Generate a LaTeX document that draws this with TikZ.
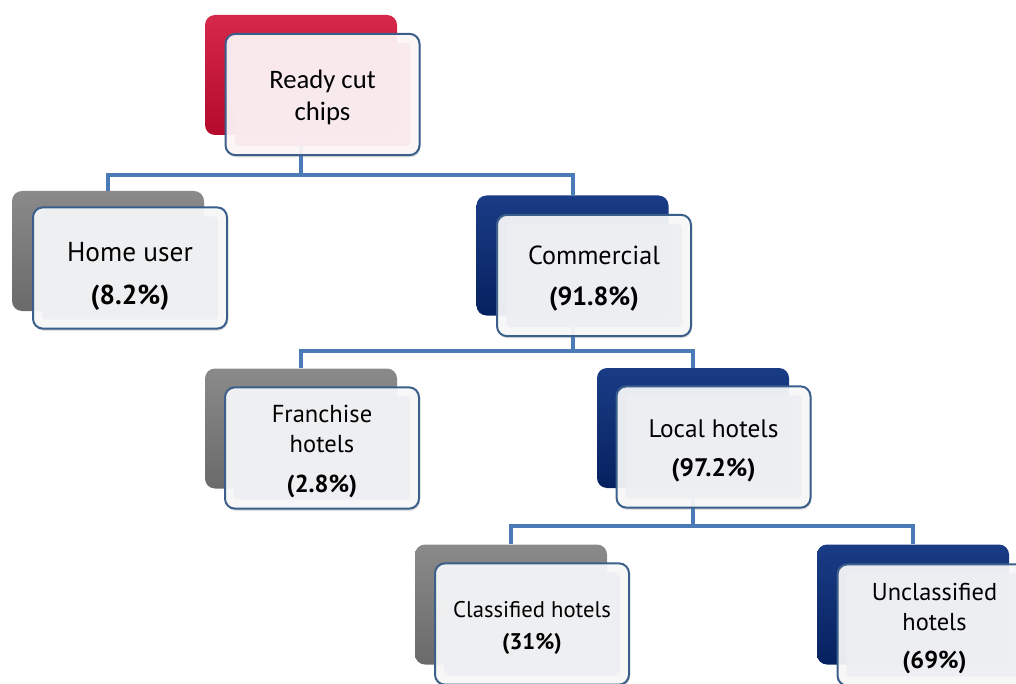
\documentclass[tikz,border=0pt]{standalone}
\usepackage{fontspec}
\setmainfont{Carlito}
\newfontfamily\gill{PT Sans}
\usetikzlibrary{shadows}
\definecolor{connc}{HTML}{4A7BB7}
\definecolor{frontline}{HTML}{3A5F8A}
\definecolor{frontouter}{HTML}{F9FAFB}
\definecolor{frontinner}{HTML}{EEEFF2}
\definecolor{pinkouter}{HTML}{FFF8F9}
\definecolor{pinkinner}{HTML}{F9EAEE}
\definecolor{redtop}{HTML}{D6284A}
\definecolor{redbot}{HTML}{B40A2C}
\definecolor{graytop}{HTML}{8A8A8A}
\definecolor{graybot}{HTML}{6A6A6A}
\definecolor{navytop}{HTML}{1A3C86}
\definecolor{navybot}{HTML}{06215F}
\begin{document}
\begin{tikzpicture}[x=0.75pt,y=-0.75pt,
  backbox/.style={rounded corners=7.5pt, minimum width=144pt, minimum height=90pt, inner sep=0pt},
  redback/.style={backbox, top color=redtop, bottom color=redbot},
  grayback/.style={backbox, top color=graytop, bottom color=graybot},
  navyback/.style={backbox, top color=navytop, bottom color=navybot},
  frontbox/.style={rounded corners=7.5pt, minimum width=145.5pt, minimum height=91pt,
    draw=frontline, line width=1.5pt, fill=frontouter, fill opacity=0.92,
    inner sep=0pt,
    drop shadow={opacity=0.25, shadow xshift=0.8pt, shadow yshift=-1.6pt},
    path picture={\fill[#1, rounded corners=3pt]
      ([shift={(9,-9)}]path picture bounding box.south west) rectangle
      ([shift={(-9,9)}]path picture bounding box.north east);}},
  frontbox/.default=frontinner,
  lbl/.style={align=center, inner sep=0pt, text=black},
  conn/.style={draw=connc, line width=3pt}
]
\useasboundingbox (0,0) rectangle (1016,684);
\clip (0,0) rectangle (1016,684);

% back boxes
\node[redback]  (topb)  at (301,75)    {};
\node[grayback] (homeb) at (108,251)   {};
\node[navyback] (comb)  at (572.5,255.5) {};
\node[grayback] (frab)  at (301,428.5) {};
\node[navyback] (locb)  at (693,428)   {};
\node[grayback] (clab)  at (511,604.5) {};
\node[navyback] (uncb)  at (913,604.5) {};

% connectors
\draw[conn] (topb.south) -- ++(0,40) coordinate (bar1) -| (homeb.north);
\draw[conn] (bar1) -| (comb.north);
\draw[conn] (comb.south) -- ++(0,35) coordinate (bar2) -| (frab.north);
\draw[conn] (bar2) -| (locb.north);
\draw[conn] (locb.south) -- ++(0,38) coordinate (bar3) -| (clab.north);
\draw[conn] (bar3) -| (uncb.north);

% front boxes
\node[frontbox=pinkinner, fill=pinkouter] (top) at (322.5,94.5) {};
\node[frontbox] (home) at (130,268) {};
\node[frontbox] (com) at (594,275.5) {};
\node[frontbox] (fra) at (322,448) {};
\node[frontbox] (loc) at (713.5,447) {};
\node[frontbox] (cla) at (532,624) {};
\node[frontbox] (unc) at (934.5,625) {};

% labels
\node[lbl, font=\fontsize{20}{24}\selectfont] (topt) at ([yshift=-2.5pt]top.center) {Ready cut\\chips};
\node[lbl, font=\gill\fontsize{20.5}{24}\selectfont] (homet) at ([yshift=-6.5pt]home.center) {Home user\\[8pt]\textbf{(8.2\%)}};
\node[lbl, font=\gill\fontsize{19.6}{23.5}\selectfont] (comt) at ([yshift=-2.5pt]com.center) {Commercial\\[7.5pt]\textbf{(91.8\%)}};
\node[lbl, font=\gill\fontsize{18.4}{22.5}\selectfont] (frat) at ([yshift=-3pt]fra.center) {Franchise\\hotels\\[7.5pt]\textbf{(2.8\%)}};
\node[lbl, font=\gill\fontsize{19}{23}\selectfont] (loct) at ([yshift=-3pt]loc.center) {Local hotels\\[6pt]\textbf{(97.2\%)}};
\node[lbl, font=\gill\fontsize{17}{20}\selectfont] (clat) at ([yshift=-3pt]cla.center) {Classified hotels\\[4pt]\textbf{(31\%)}};
\node[lbl, font=\gill\fontsize{18.3}{22}\selectfont] (unct) at ([yshift=-3pt]unc.center) {Unclassified\\hotels\\[7pt]\textbf{(69\%)}};
\end{tikzpicture}
\end{document}
